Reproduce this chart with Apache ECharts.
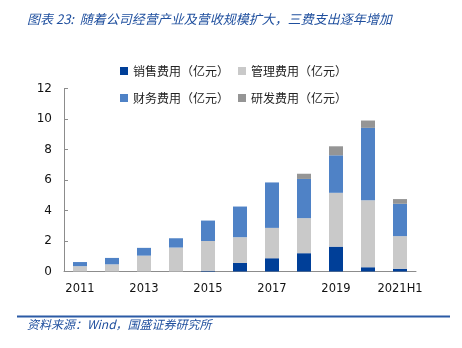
<!DOCTYPE html>
<html>
<head>
<meta charset="utf-8">
<script src="https://cdn.jsdelivr.net/npm/echarts@6/dist/echarts.min.js"></script>
<style>
html,body{margin:0;padding:0;background:#fff;}
#chart{width:462px;height:348px;}
</style>
</head>
<body>
<div id="chart"></div>
<script>
var categories = ['2011','2012','2013','2014','2015','2016','2017','2018','2019','2020','2021H1'];
var salesExp   = [0, 0, 0, 0, 0.05, 0.56, 0.87, 1.20, 1.63, 0.28, 0.18];
var adminExp   = [0.35, 0.47, 1.04, 1.57, 1.95, 1.69, 1.99, 2.30, 3.53, 4.40, 2.14];
var financeExp = [0.27, 0.42, 0.51, 0.61, 1.34, 2.01, 2.98, 2.57, 2.46, 4.74, 2.12];
var rdExp      = [0, 0, 0, 0, 0, 0, 0, 0.34, 0.59, 0.48, 0.31];
var seriesNames = ['销售费用（亿元）','管理费用（亿元）','财务费用（亿元）','研发费用（亿元）'];
var yTicks = [0, 2, 4, 6, 8, 10, 12];
var titleText = '图表 23:  随着公司经营产业及营收规模扩大，三费支出逐年增加';
var sourceText = '资料来源：Wind，国盛证券研究所';

var colors = ['#003f98', '#c9c9c9', '#4f82c6', '#959595'];
var cjk = '"Noto Sans CJK SC", sans-serif';
var chart = echarts.init(document.getElementById('chart'));
var legendText = {fontFamily: cjk, fontSize: 12, color: '#222'};
function mk(name, data, i) {
  return {name: name, type: 'bar', stack: 'a', data: data, barWidth: 14,
    itemStyle: {color: colors[i]}, emphasis: {disabled: true}};
}
chart.setOption({
  animation: false,
  grid: {left: 64, right: 46, top: 88.5, bottom: 76.5},
  legend: [
    {data: [seriesNames[0], seriesNames[1]], left: 120, top: 65, itemWidth: 8, itemHeight: 8,
     itemGap: 9, icon: 'rect', textStyle: legendText, padding: 0},
    {data: [seriesNames[2], seriesNames[3]], left: 120, top: 92, itemWidth: 8, itemHeight: 8,
     itemGap: 9, icon: 'rect', textStyle: legendText, padding: 0}
  ],
  xAxis: {
    type: 'category', data: categories,
    axisLine: {lineStyle: {color: '#8c8c8c'}},
    axisTick: {inside: true, length: 4, lineStyle: {color: '#8c8c8c'}},
    axisLabel: {interval: 1, fontFamily: 'DejaVu Sans', fontSize: 11.5, color: '#111', margin: 12}
  },
  yAxis: {
    type: 'value', min: yTicks[0], max: yTicks[yTicks.length-1], interval: 2,
    axisLine: {show: true, lineStyle: {color: '#8c8c8c'}},
    axisTick: {show: true, inside: true, length: 4, lineStyle: {color: '#8c8c8c'}},
    splitLine: {show: false},
    axisLabel: {fontFamily: 'DejaVu Sans', fontSize: 12, color: '#111', margin: 12}
  },
  series: [
    mk(seriesNames[0], salesExp, 0),
    mk(seriesNames[1], adminExp, 1),
    mk(seriesNames[2], financeExp, 2),
    mk(seriesNames[3], rdExp, 3)
  ],
  graphic: [
    {type: 'text', left: 27, top: 13, style: {text: titleText, fontFamily: cjk, fontStyle: 'italic',
      fontSize: 13, fill: '#1f4f9e'}},
    {type: 'rect', shape: {x: 17, y: 315.5, width: 433, height: 2}, style: {fill: '#2b5aa5'}},
    {type: 'text', left: 27, top: 318, style: {text: sourceText, fontFamily: cjk, fontStyle: 'italic',
      fontSize: 12, fill: '#1f4f9e'}}
  ]
});
</script>
</body>
</html>
